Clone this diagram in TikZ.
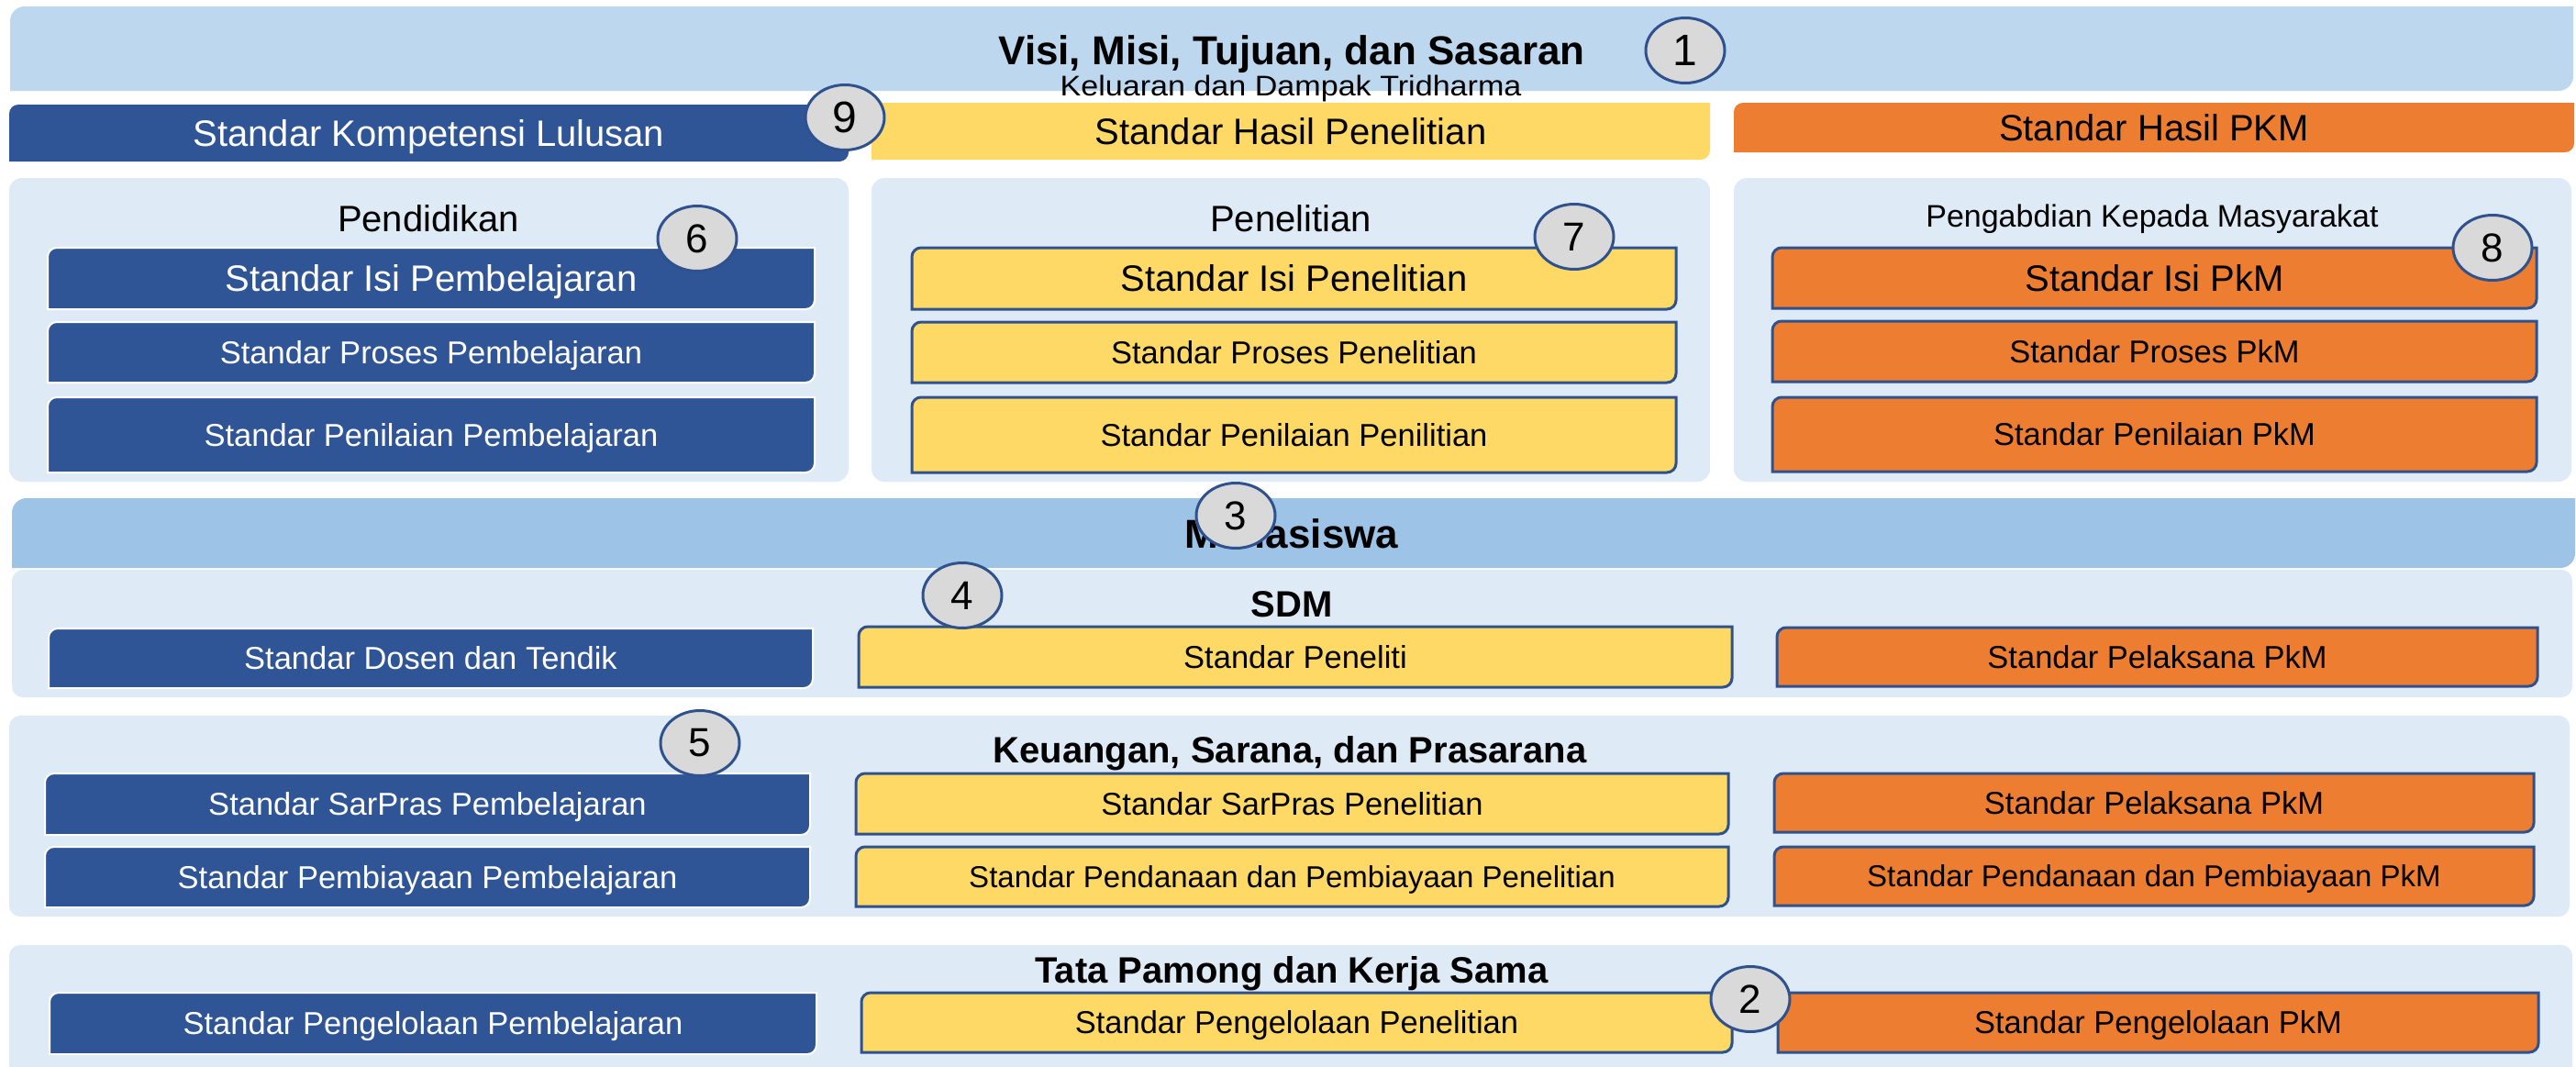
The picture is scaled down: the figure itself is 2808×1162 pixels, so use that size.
\documentclass[tikz,border=0pt]{standalone}
\usepackage{fontspec}
\usepackage{graphicx}
\setmainfont{Liberation Sans}
\usetikzlibrary{shapes.geometric}
\definecolor{dblue}{HTML}{2F5597}
\definecolor{yel}{HTML}{FFD966}
\definecolor{ora}{HTML}{ED7D31}
\definecolor{bord}{HTML}{2F528F}
\definecolor{cgray}{HTML}{D9D9D9}
\definecolor{lblue}{HTML}{BDD7EE}
\definecolor{mblue}{HTML}{9DC3E6}
\definecolor{pane}{HTML}{DEEBF7}
\newcommand\fs[1]{\fontsize{#1}{#1}\selectfont}
% shape with top-left and bottom-right rounded corners
\newcommand\rdshape[6]{%
  \path[#1] (#2,#5) -- (#2,{#3+#6}) .. controls (#2,{#3+0.448*#6}) and ({#2+0.448*#6},#3) .. ({#2+#6},#3)
   -- (#4,#3) -- (#4,{#5-#6}) .. controls (#4,{#5-0.448*#6}) and ({#4-0.448*#6},#5) .. ({#4-#6},#5) -- cycle;}
% box with text: name, style, x1, y1, x2, y2, font size, text
\newcommand\stdbox[8]{%
  \rdshape{#2}{#3}{#4}{#5}{#6}{10}%
  \node[anchor=base, inner sep=0pt, #2 text, font=\fs{#7}] (#1) at ({(#3+#5)/2},{(#4+#6)/2+0.358*#7}) {#8};}
\tikzset{
  bluebx/.style={fill=dblue, draw=white, line width=2pt},
  bluebx text/.style={text=white},
  yelbx/.style={fill=yel, draw=bord, line width=3pt},
  yelbx text/.style={text=black},
  orabx/.style={fill=ora, draw=bord, line width=3pt},
  orabx text/.style={text=black},
  bluebar/.style={fill=dblue},
  bluebar text/.style={text=white},
  yelbar/.style={fill=yel},
  yelbar text/.style={text=black},
  orabar/.style={fill=ora},
  orabar text/.style={text=black},
  panel/.style={fill=pane, rounded corners=14pt},
  head/.style={anchor=base, inner sep=0pt, font=\fs{40}\bfseries},
  ptitle/.style={anchor=base, inner sep=0pt, font=\fs{40}},
  numc/.style={ellipse, fill=cgray, draw=bord, line width=3pt, minimum width=86pt,
    minimum height=71pt, inner sep=0pt, font=\fs{44}},
}
\begin{document}
\begin{tikzpicture}[x=1pt, y=-1pt]
\useasboundingbox[fill=white] (0,0) rectangle (2808,1162);
% top banner
\rdshape{fill=lblue}{11}{7}{2805}{99}{16}
\node[head, font=\fs{44}\bfseries] (visi) at (1408,70) {Visi, Misi, Tujuan, dan Sasaran};
\node[anchor=base, inner sep=0pt, font=\fs{31}] (kel) at (1407,104) {\scalebox{1.1}[1]{Keluaran dan Dampak Tridharma}};
% row 2 bars
\stdbox{skl}{bluebar}{10}{114}{925}{176}{40}{Standar Kompetensi Lulusan}
\stdbox{shp}{yelbar}{950}{112}{1864}{174}{40}{Standar Hasil Penelitian}
\stdbox{shk}{orabar}{1890}{112}{2806}{166}{40}{Standar Hasil PKM}
% tridharma panels
\path[panel] (10,194) rectangle (925,525);
\path[panel] (950,194) rectangle (1864,525);
\path[panel] (1890,194) rectangle (2803,525);
\node[ptitle] (pend) at (467,252) {Pendidikan};
\node[ptitle] (pen) at (1407,252) {Penelitian};
\node[ptitle, font=\fs{34}] (pkm) at (2346,247) {Pengabdian Kepada Masyarakat};
\stdbox{b1}{bluebx}{52}{270}{888}{337}{40}{Standar Isi Pembelajaran}
\stdbox{b2}{bluebx}{52}{351}{888}{417}{34.5}{Standar Proses Pembelajaran}
\stdbox{b3}{bluebx}{52}{433}{888}{515}{34.5}{Standar Penilaian Pembelajaran}
\stdbox{y1}{yelbx}{994}{270}{1827}{337}{40}{Standar Isi Penelitian}
\stdbox{y2}{yelbx}{994}{351}{1827}{417}{34.5}{Standar Proses Penelitian}
\stdbox{y3}{yelbx}{994}{433}{1827}{515}{34.5}{Standar Penilaian Penilitian}
\stdbox{o1}{orabx}{1932}{270}{2765}{336}{40}{Standar Isi PkM}
\stdbox{o2}{orabx}{1932}{350}{2765}{416}{34.5}{Standar Proses PkM}
\stdbox{o3}{orabx}{1932}{433}{2765}{514}{34.5}{Standar Penilaian PkM}
% Mahasiswa
\rdshape{fill=mblue}{13}{543}{2807}{619}{16}
\node[head, font=\fs{44}\bfseries] (mhs) at (1408,597) {Mahasiswa};
% SDM
\path[panel, rounded corners=12pt] (13,621) rectangle (2804,760);
\node[head] (sdm) at (1408,672) {SDM};
\stdbox{sd1}{bluebx}{53}{685}{886}{750}{34.5}{Standar Dosen dan Tendik}
\stdbox{sd2}{yelbx}{936}{683}{1888}{749}{34.5}{Standar Peneliti}
\stdbox{sd3}{orabx}{1937}{684}{2766}{748}{34.5}{Standar Pelaksana PkM}
% Keuangan
\path[panel, rounded corners=12pt] (10,780) rectangle (2801,999);
\node[head] (keu) at (1406,831) {Keuangan, Sarana, dan Prasarana};
\stdbox{k1}{bluebx}{49}{843}{883}{910}{34.5}{Standar SarPras Pembelajaran}
\stdbox{k2}{bluebx}{49}{923}{883}{989}{34.5}{Standar Pembiayaan Pembelajaran}
\stdbox{k3}{yelbx}{933}{843}{1884}{909}{34.5}{Standar SarPras Penelitian}
\stdbox{k4}{yelbx}{933}{923}{1884}{988}{33}{Standar Pendanaan dan Pembiayaan Penelitian}
\stdbox{k5}{orabx}{1934}{843}{2762}{907}{34.5}{Standar Pelaksana PkM}
\stdbox{k6}{orabx}{1934}{923}{2762}{987}{33}{Standar Pendanaan dan Pembiayaan PkM}
% Tata Pamong
\path[panel, rounded corners=12pt] (10,1030) rectangle (2804,1190);
\node[head] (tata) at (1408,1071) {Tata Pamong dan Kerja Sama};
\stdbox{t1}{bluebx}{54}{1082}{890}{1149}{34.5}{Standar Pengelolaan Pembelajaran}
\stdbox{t2}{yelbx}{939}{1082}{1888}{1147}{34.5}{Standar Pengelolaan Penelitian}
\stdbox{t3}{orabx}{1938}{1082}{2767}{1147}{34.5}{Standar Pengelolaan PkM}
% numbered circles
\node[numc, font=\fs{48}] (c1) at (1837,55) {1};
\node[numc, font=\fs{48}] (c9) at (921,128) {9};
\node[numc] (c6) at (760,260) {6};
\node[numc] (c7) at (1716,258) {7};
\node[numc] (c8) at (2717,270) {8};
\node[numc] (c3) at (1347,562) {3};
\node[numc] (c4) at (1049,649) {4};
\node[numc] (c5) at (763,810) {5};
\node[numc] (c2) at (1908,1089) {2};
\end{tikzpicture}
\end{document}
